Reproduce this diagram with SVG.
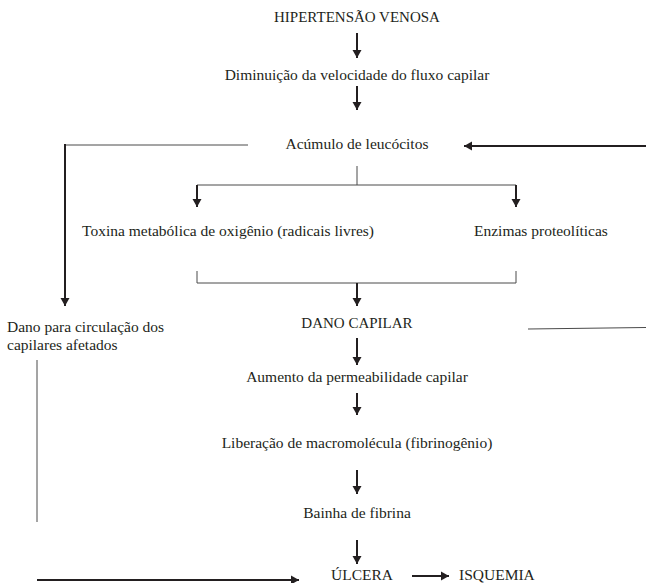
<svg xmlns="http://www.w3.org/2000/svg" width="646" height="583" viewBox="0 0 646 583">
<style>
text{font-family:"Liberation Serif","Times New Roman",serif;font-size:15.5px;fill:#231f20}
.c{text-anchor:middle}
.cap{font-size:15px}
.thick{stroke:#231f20;stroke-width:2;fill:none}
.thin{stroke:#4a4a4a;stroke-width:1;fill:none}
.arr{marker-end:url(#ah)}
</style>
<defs>
<marker id="ah" markerUnits="userSpaceOnUse" markerWidth="9" markerHeight="10" refX="8" refY="5" orient="auto">
<path d="M0,0.5 L8,5 L0,9.5 z" fill="#231f20"/>
</marker>
</defs>
<rect width="646" height="583" fill="#fff"/>
<g id="connectors">
<line class="thick arr" x1="357" y1="33" x2="357" y2="58"/>
<line class="thick arr" x1="357" y1="86" x2="357" y2="110"/>
<polyline class="thin" points="248,145 65,145"/>
<line class="thick arr" x1="65" y1="144" x2="65" y2="306"/>
<line class="thick arr" x1="646" y1="146" x2="464" y2="146"/>
<line class="thin" x1="357" y1="166" x2="357" y2="185"/>
<line class="thin" x1="197" y1="185" x2="516" y2="185"/>
<line class="thick arr" x1="197" y1="185" x2="197" y2="207"/>
<line class="thick arr" x1="516" y1="185" x2="516" y2="207"/>
<polyline class="thin" points="197,271 197,283 516,283 516,271"/>
<line class="thick arr" x1="357" y1="283" x2="357" y2="306"/>
<line class="thin" x1="528" y1="329" x2="646" y2="327.5"/>
<line class="thick arr" x1="357" y1="338" x2="357" y2="365"/>
<line class="thick arr" x1="357" y1="393" x2="357" y2="415"/>
<line class="thick arr" x1="357" y1="470" x2="357" y2="494"/>
<line class="thin" x1="37" y1="360" x2="37" y2="522"/>
<line class="thick arr" x1="37" y1="580" x2="299" y2="580"/>
<line class="thick arr" x1="412" y1="576" x2="449" y2="576"/>
<line class="thick arr" x1="357" y1="540" x2="357" y2="564"/>
</g>
<g id="n1"><text class="c cap" x="357" y="22">HIPERTENSÃO VENOSA</text></g>
<g id="n2"><text class="c" x="357" y="80">Diminuição da velocidade do fluxo capilar</text></g>
<g id="n3"><text class="c" x="357" y="149">Acúmulo de leucócitos</text></g>
<g id="n4"><text x="82" y="236">Toxina metabólica de oxigênio (radicais livres)</text></g>
<g id="n5"><text x="474" y="236">Enzimas proteolíticas</text></g>
<g id="n6"><text class="c cap" x="357" y="328">DANO CAPILAR</text></g>
<g id="n7"><text x="7" y="332">Dano para circulação dos</text><text x="7" y="350">capilares afetados</text></g>
<g id="n8"><text class="c" x="357" y="382">Aumento da permeabilidade capilar</text></g>
<g id="n9"><text class="c" x="357" y="448">Liberação de macromolécula (fibrinogênio)</text></g>
<g id="n10"><text class="c" x="357" y="518">Bainha de fibrina</text></g>
<g id="n11"><text x="331" y="580">ÚLCERA</text></g>
<g id="n12"><text x="459" y="580">ISQUEMIA</text></g>
</svg>
